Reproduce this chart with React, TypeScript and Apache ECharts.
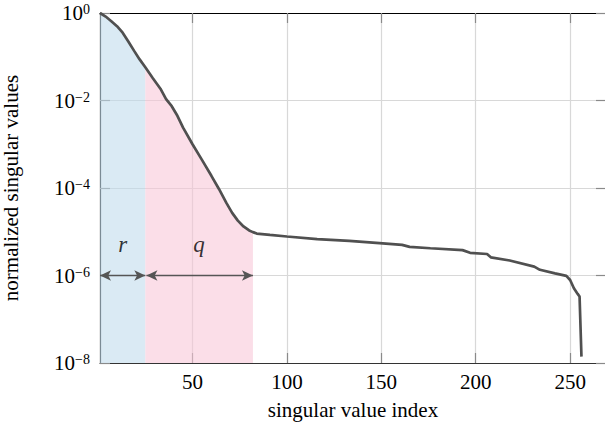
import React, { useEffect, useRef } from "react";
import * as echarts from "echarts";

// singular value index and normalized singular value
const indices = [
  1, 4, 7, 10, 13, 16, 19, 22, 25, 29, 33, 36, 39, 42, 45, 50, 55, 60, 64, 68,
  71, 74, 77, 80, 82, 84, 91, 100, 116, 133, 149, 161, 165, 176, 193, 197, 206,
  208, 218, 231, 234, 242, 248, 250, 252, 254, 255, 256,
];
const values = [
  1, 0.83, 0.65, 0.5, 0.355, 0.224, 0.138, 0.087, 0.0575, 0.0324, 0.0186,
  0.0107, 0.0074, 0.00447, 0.0024, 0.001, 4.4e-4, 1.9e-4, 9.5e-5, 4.5e-5,
  2.7e-5, 1.8e-5, 1.32e-5, 1.07e-5, 9.8e-6, 9.1e-6, 8.5e-6, 7.8e-6, 6.8e-6,
  6.2e-6, 5.5e-6, 5.0e-6, 4.5e-6, 4.2e-6, 3.8e-6, 3.3e-6, 3.1e-6, 2.6e-6,
  2.2e-6, 1.6e-6, 1.35e-6, 1.12e-6, 9.8e-7, 7.9e-7, 5.1e-7, 3.8e-7, 3.3e-7,
  1.4e-8,
];

const xTicks = [50, 100, 150, 200, 250];
const xMin = 1;
const xMax = 269;
const yMin = 1e-8;
const yMax = 1;

// regions r and q
const rStart = 1;
const rEnd = 25;
const qEnd = 82;
const arrowLevel = 1e-6;
const labelLevel = 5e-6;
const regionLabels = [
  { name: "r", x: 13 },
  { name: "q", x: 53.5 },
];

const FONT = "Liberation Serif";

export default function App() {
  const ref = useRef<HTMLDivElement>(null);

  useEffect(() => {
    if (!ref.current) return;
    const chart = echarts.init(ref.current, null, { renderer: "svg" });
    const pts = indices.map((x, i) => [x, values[i]]);
    const blue = pts.filter((p) => p[0] <= rEnd);
    const pink = pts.filter((p) => p[0] >= rEnd && p[0] <= qEnd);

    const tickStyle = { color: "#8a8a8a", width: 1.2 };

    const option: any = {
      animation: false,
      grid: {
        left: 100,
        top: 13,
        width: 506,
        height: 350,
        outerBoundsMode: "none",
        containLabel: false,
      },
      xAxis: [
        {
          type: "value",
          min: xMin,
          max: xMax,
          position: "bottom",
          name: "singular value index",
          nameLocation: "middle",
          nameGap: 36,
          nameTextStyle: { fontFamily: FONT, fontSize: 21, color: "#000" },
          axisLine: { show: true, lineStyle: { color: "#333", width: 1.2 } },
          axisTick: {
            show: true,
            inside: true,
            length: 10,
            customValues: xTicks,
            lineStyle: tickStyle,
          },
          axisLabel: {
            customValues: xTicks,
            fontFamily: FONT,
            fontSize: 21,
            color: "#000",
            margin: 8,
          },
          splitLine: { show: true, lineStyle: { color: "#d8d8d8", width: 1.2 } },
        },
        {
          type: "value",
          min: xMin,
          max: xMax,
          position: "top",
          axisLine: { show: true, lineStyle: { color: "#000", width: 1.2 } },
          axisTick: {
            show: true,
            inside: true,
            length: 10,
            customValues: xTicks,
            lineStyle: tickStyle,
          },
          axisLabel: { show: false },
          splitLine: { show: false },
        },
      ],
      yAxis: [
        {
          type: "log",
          logBase: 10,
          min: yMin,
          max: yMax,
          interval: 2,
          name: "normalized singular values",
          nameLocation: "middle",
          nameGap: 79,
          nameTextStyle: { fontFamily: FONT, fontSize: 21, color: "#000" },
          axisLine: { show: true, lineStyle: { color: "#222", width: 1.2 } },
          axisTick: { show: true, inside: true, length: 10, lineStyle: tickStyle },
          axisLabel: {
            margin: 10,
            formatter: (v: number) => {
              const e = Math.round(Math.log10(v));
              const s = e < 0 ? "\u2212" + -e : String(e);
              return `{b|10}{s|${s}}`;
            },
            rich: {
              b: {
                fontFamily: FONT,
                fontSize: 21,
                color: "#000",
                lineHeight: 21,
                verticalAlign: "bottom",
              },
              s: {
                fontFamily: FONT,
                fontSize: 14,
                color: "#000",
                lineHeight: 14,
                padding: [0, 0, 11, 0],
                verticalAlign: "top",
              },
            },
          },
          splitLine: { show: true, lineStyle: { color: "#d8d8d8", width: 1.2 } },
        },
        {
          type: "log",
          logBase: 10,
          min: yMin,
          max: yMax,
          interval: 2,
          position: "right",
          axisLine: { show: true, lineStyle: { color: "#000", width: 1.2 } },
          axisTick: { show: true, inside: true, length: 10, lineStyle: tickStyle },
          axisLabel: { show: false },
          splitLine: { show: false },
        },
      ],
      series: [
        {
          type: "line",
          data: blue,
          showSymbol: false,
          symbol: "none",
          lineStyle: { width: 0 },
          areaStyle: { origin: "start", color: "rgba(190,218,236,0.82)" },
          silent: true,
          z: 1,
        },
        {
          type: "line",
          data: pink,
          showSymbol: false,
          symbol: "none",
          lineStyle: { width: 0 },
          areaStyle: { origin: "start", color: "rgba(248,197,214,0.82)" },
          silent: true,
          z: 1,
          markLine: {
            silent: true,
            symbol: ["arrow", "arrow"],
            symbolSize: [8, 11],
            label: { show: false },
            lineStyle: { color: "#555", width: 1.3, type: "solid" },
            data: [
              [{ coord: [rStart, arrowLevel] }, { coord: [rEnd, arrowLevel] }],
              [{ coord: [rEnd + 0.6, arrowLevel] }, { coord: [qEnd, arrowLevel] }],
            ],
          },
        },
        {
          type: "line",
          data: pts,
          showSymbol: false,
          symbol: "none",
          lineStyle: { color: "#505050", width: 2.7 },
          silent: true,
          z: 3,
        },
        {
          type: "scatter",
          data: regionLabels.map((l) => [l.x, labelLevel, l.name]),
          symbolSize: 0,
          silent: true,
          label: {
            show: true,
            position: "inside",
            formatter: (p: any) => p.value[2],
            fontFamily: FONT,
            fontStyle: "italic",
            fontSize: 23,
            color: "#000",
          },
          z: 4,
        },
      ],
    };
    chart.setOption(option);
    return () => chart.dispose();
  }, []);

  return (
    <div
      ref={ref}
      style={{ position: "absolute", left: 0, top: 0, width: 605, height: 426 }}
    />
  );
}
